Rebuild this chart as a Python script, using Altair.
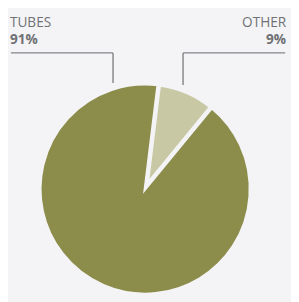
import altair as alt
import pandas as pd
import math

categories = ["OTHER", "TUBES"]
values = [9, 91]
colors = ["#c9c8a5", "#8c8c4b"]

df = pd.DataFrame({"category": categories, "value": values, "order": [0, 1]})
df["pct"] = df["value"].astype(str) + "%"

W, H = 291, 294
cx, cy, r = 141, 182, 108
start = 7 * math.pi / 180
bis = 23.5 * math.pi / 180
off = 6

base = alt.Chart(df)

def slice_layer(cat, x, y, rad):
    return base.mark_arc(radius=rad, stroke="#f4f4f6", strokeWidth=3).encode(
        theta=alt.Theta("value:Q", stack=True, scale=alt.Scale(range=[start, start + 2 * math.pi])),
        color=alt.Color("category:N", scale=alt.Scale(domain=categories, range=colors), legend=None),
        order=alt.Order("order:Q"),
        opacity=alt.condition(alt.datum.category == cat, alt.value(1), alt.value(0)),
        strokeOpacity=alt.condition(alt.datum.category == cat, alt.value(1), alt.value(0)),
        x=alt.value(x),
        y=alt.value(y),
    )

pie_tubes = slice_layer("TUBES", cx, cy, r)
pie_other = slice_layer("OTHER", cx + off * math.sin(bis), cy - off * math.cos(bis), r - off)

txt_color = "#707174"
font = "Open Sans"

def label(cat, x, align):
    sub = base.transform_filter(alt.datum.category == cat)
    name = sub.mark_text(font=font, fontSize=14, color=txt_color, align=align, baseline="alphabetic").encode(
        x=alt.value(x), y=alt.value(15), text="category:N")
    pct = sub.mark_text(font=font, fontSize=14, fontWeight="bold", color=txt_color, align=align, baseline="alphabetic").encode(
        x=alt.value(x), y=alt.value(33), text="pct:N")
    return name + pct

line_color = "#858688"
def rule(x, x2, y, y2):
    return alt.Chart(pd.DataFrame({"a": [0]})).mark_rule(color=line_color, strokeWidth=1.5).encode(
        x=alt.value(x), x2=alt.value(x2), y=alt.value(y), y2=alt.value(y2))

chart = alt.layer(
    pie_tubes,
    pie_other,
    label("TUBES", 2, "left"),
    label("OTHER", 286, "right"),
    rule(3, 108, 42, 42),
    rule(108, 108, 42, 73),
    rule(180, 285, 42, 42),
    rule(180, 180, 42, 75),
).properties(
    width=W, height=H, padding=0, autosize=alt.AutoSizeParams(type="none"),
    background="#f4f4f6",
).configure_view(stroke=None)

chart.save("out.html", embed_options={"renderer": "svg", "actions": False})
